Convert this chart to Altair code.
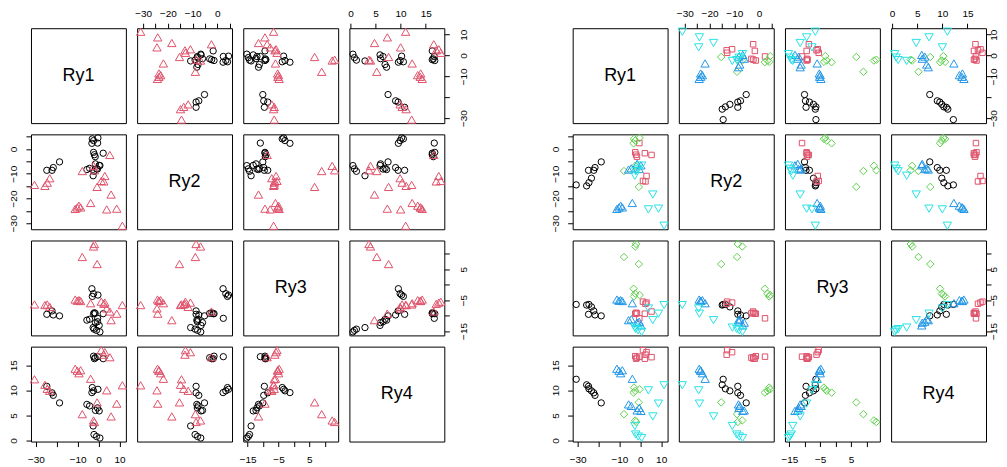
import json
import altair as alt
import pandas as pd

VARS = ["Ry1", "Ry2", "Ry3", "Ry4"]

# point coordinates (groups: 8 black, 9 red, 8 green, 10 blue, 8 cyan in the right matrix)
ry1 = [-18.7, -21.7, -22.3, -23.4, -24.6, -24.8, -25.7, -30.7,
       -0.45, -2.4, -2.0, -1.6, 2.2, 5.4, 3.0, 1.3, 2.5,
       -2.0, -2.4, -7.8, -0.7, -3.2, -2.4, -0.3, -3.0,
       -11.2, -10.2, -9.4, -8.6, -3.8, -5.6, -4.3, -1.5, 0.3, -0.5,
       0.65, -1.0, -2.2, -2.6, 6.0, 8.7, 3.9, 11.4]
ry2 = [-5.2, -7.5, -8.6, -11.8, -13.6, -8.6, -14.9, -14.5,
       2.4, -1.35, -2.3, -3.1, -1.7, -2.4, -10.9, -12.9, -13.1,
       -8.6, -6.8, -8.9, -15.3, 2.3, 3.4, 4.5, 4.1,
       -24.2, -23.6, -22.9, -23.6, -21.8, -8.3, -7.8, -6.0, -6.6, -8.1,
       -6.7, -8.0, -9.0, -10.8, -18.4, -24.1, -24.4, -31.0]
ry3 = [-10.1, -9.8, -8.5, -7.2, -6.4, -9.6, -6.6, -6.4,
       -10.9, -9.4, -9.1, -9.3, -9.4, -8.7, -5.8, -5.5, -6.2,
       13.2, 12.4, 9.0, 6.7, -1.3, -2.9, -3.35, -3.8,
       -4.8, -5.2, -5.0, -5.3, -6.0, -11.5, -11.2, -12.3, -13.2, -12.0,
       -15.3, -14.8, -14.4, -13.9, -11.5, -9.4, -7.7, -6.6]
ry4 = [7.5, 9.0, 9.5, 9.9, 10.3, 10.8, 11.1, 12.2,
       16.7, 16.8, 16.3, 16.5, 16.3, 16.6, 17.6, 18.0, 17.1,
       3.7, 4.0, 5.25, 7.6, 9.55, 9.9, 10.2, 10.55,
       14.3, 13.9, 13.4, 14.0, 12.3, 7.2, 6.9, 6.0, 5.9, 6.5,
       0.5, 0.8, 1.2, 2.9, 4.8, 7.35, 10.0, 11.0]
# grouping of the left matrix (2 classes) and right matrix (5 clusters)
klass = [1, 1, 1, 2, 2, 1, 2, 2,
         1, 1, 1, 1, 1, 2, 2, 2, 2,
         2, 2, 2, 2, 1, 1, 1, 1,
         2, 2, 2, 2, 2, 1, 1, 1, 1, 1,
         1, 1, 1, 1, 2, 2, 2, 2]
cluster = [1] * 8 + [2] * 9 + [3] * 8 + [4] * 10 + [5] * 8

tick_values = {
    "Ry1": [-30, -20, -10, 0, 10],
    "Ry2": [-30, -25, -20, -15, -10, -5, 0, 5],
    "Ry3": [-15, -10, -5, 0, 5, 10],
    "Ry4": [0, 5, 10, 15],
}
tick_labels = {
    "Ry1": [-30, -10, 0, 10],
    "Ry2": [-30, -20, -10, 0],
    "Ry3": [-15, -5, 5],
    "Ry4": [0, 5, 10, 15],
}

df = pd.DataFrame({
    "Ry1": ry1, "Ry2": ry2, "Ry3": ry3, "Ry4": ry4,
    "klass": klass, "cluster": cluster,
})


def r_range(v):
    lo, hi = min(v), max(v)
    r = hi - lo
    return [lo - 0.04 * r, hi + 0.04 * r]


DOM = {v: r_range(df[v].tolist()) for v in VARS}

# marker styles: (field, value, colour, shape, size)
LEFT_STYLES = [("klass", 1, "#000000", "circle", 40),
               ("klass", 2, "#DF536B", "triangle-up", 70)]
RIGHT_STYLES = [("cluster", 1, "#000000", "circle", 40),
                ("cluster", 2, "#DF536B", "square", 30),
                ("cluster", 3, "#61D04F", "diamond", 56),
                ("cluster", 4, "#2297E6", "triangle-up", 70),
                ("cluster", 5, "#28E2E5", "triangle-down", 70)]

FONT = "Liberation Sans"
PW = 95
GAP = 11.25
SPACER_W = 106


def make_axis(var, orient, side):
    pad = {"top": 4.3, "bottom": 7.5, "left": 7,
           "right": 9 if side == "L" else -2.5}[orient]
    expr = "indexof(%s, datum.value) >= 0 ? datum.label : ''" % json.dumps(tick_labels[var])
    kw = dict(values=tick_values[var], labelExpr=expr, orient=orient,
              tickSize=5, tickWidth=1, tickColor="black", domain=False, grid=False,
              labelFont=FONT, labelFontSize=10, labelColor="black",
              labelOverlap=False, labelFlush=False, labelPadding=pad,
              title=None)
    if orient in ("left", "right"):
        kw.update(labelAngle=270, labelAlign="center",
                  labelBaseline="bottom" if orient == "left" else "top")
    else:
        kw.update(labelAngle=0, labelAlign="center",
                  labelBaseline="bottom" if orient == "top" else "top")
    return alt.Axis(**kw)


def scatter(i, j, side):
    xv, yv = VARS[j], VARS[i]
    if i == 0 and j % 2 == 1:
        xax = make_axis(xv, "top", side)
    elif i == 3 and j % 2 == 0:
        xax = make_axis(xv, "bottom", side)
    else:
        xax = None
    if j == 0 and i % 2 == 1:
        yax = make_axis(yv, "left", side)
    elif j == 3 and i % 2 == 0:
        yax = make_axis(yv, "right", side)
    else:
        yax = None
    x = alt.X(xv + ":Q", scale=alt.Scale(domain=DOM[xv], nice=False, zero=False), axis=xax)
    y = alt.Y(yv + ":Q", scale=alt.Scale(domain=DOM[yv], nice=False, zero=False), axis=yax)
    styles = LEFT_STYLES if side == "L" else RIGHT_STYLES
    layers = []
    for field, val, colour, shape, size in styles:
        layers.append(
            alt.Chart(df).transform_filter(alt.datum[field] == val).mark_point(
                filled=False, strokeWidth=1, opacity=1, color=colour, shape=shape, size=size
            ).encode(x=x, y=y)
        )
    return alt.layer(*layers).properties(width=PW, height=PW)


one = pd.DataFrame({"a": [0]})


def diag(i):
    return alt.Chart(one).mark_text(font=FONT, fontSize=18, color="black",
                                    align="center", baseline="middle").encode(
        text=alt.value(VARS[i]), x=alt.value(PW / 2), y=alt.value(PW / 2)
    ).properties(width=PW, height=PW)


def spacer():
    return alt.Chart(one).mark_text(text="").encode(
        x=alt.value(0), y=alt.value(PW / 2)
    ).properties(width=SPACER_W, height=PW, view=alt.ViewBackground(stroke="transparent"))


cells = []
for i in range(4):
    for side in ("L", "R"):
        for j in range(4):
            cells.append(diag(i) if i == j else scatter(i, j, side))
        if side == "L":
            cells.append(spacer())

chart = alt.concat(*cells, columns=9, spacing=GAP, bounds="flush", align="each").properties(
    padding={"left": 0, "top": 0, "right": 0, "bottom": 0}
).configure_view(stroke="black", strokeWidth=1)

chart.save("out.html", embed_options={"renderer": "svg", "actions": False})
